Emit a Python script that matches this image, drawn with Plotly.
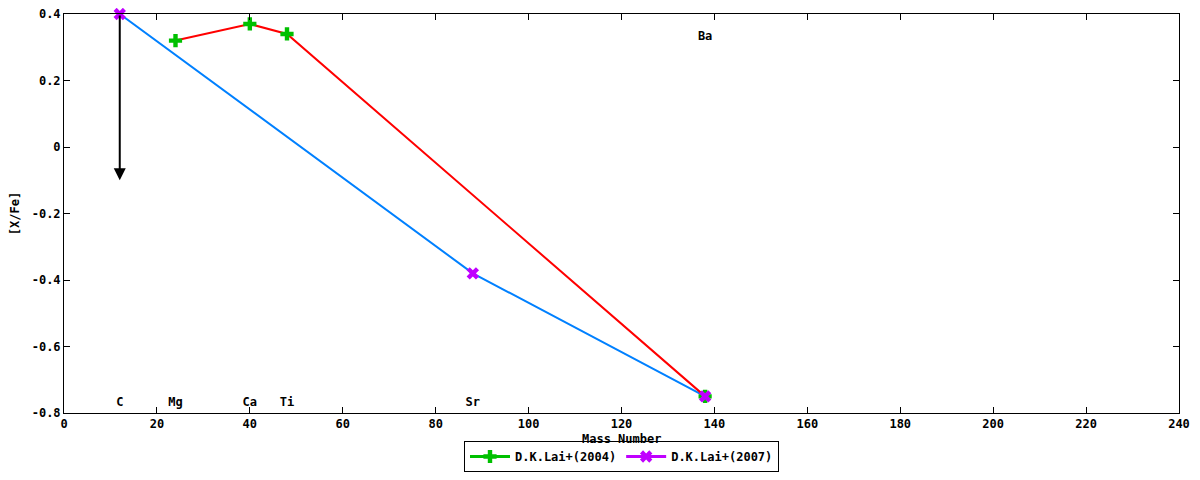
# Import libraries
import plotly.graph_objects as go

# Data
# D.K.Lai+(2004)
mass_2004 = [24, 40, 48, 138]
xfe_2004 = [0.32, 0.37, 0.34, -0.75]

# D.K.Lai+(2007)
mass_2007 = [12, 88, 138]
xfe_2007 = [0.40, -0.38, -0.75]

# upper limit arrow for C
limit_mass = [12]
limit_top = [0.40]
limit_bottom = [-0.10]

# element labels
label_names = ["C", "Mg", "Ca", "Ti", "Sr", "Ba"]
label_mass = [12, 24, 40, 48, 88, 138]
label_y = [-0.77, -0.77, -0.77, -0.77, -0.77, 0.33]

# ticks
x_ticks = [0, 20, 40, 60, 80, 100, 120, 140, 160, 180, 200, 220, 240]
y_ticks = [-0.8, -0.6, -0.4, -0.2, 0, 0.2, 0.4]
y_tick_labels = ["-0.8", "-0.6", "-0.4", "-0.2", "0", "0.2", "0.4"]

RED = "#ff0000"
GREEN = "#00c000"
BLUE = "#0080ff"
PURPLE = "#c000ff"
FONT = dict(family="DejaVu Sans Mono", size=12, color="black", weight="bold")


def createsFigure():
    global fig
    fig = go.Figure()

    # connecting lines
    fig.add_trace(go.Scatter(x=mass_2007, y=xfe_2007, mode="lines",
                             line=dict(color=BLUE, width=2),
                             showlegend=False, hoverinfo="skip"))
    fig.add_trace(go.Scatter(x=mass_2004, y=xfe_2004, mode="lines",
                             line=dict(color=RED, width=2),
                             showlegend=False, hoverinfo="skip"))

    # points
    fig.add_trace(go.Scatter(x=mass_2004, y=xfe_2004, mode="markers",
                             marker=dict(symbol="cross", size=11, color=GREEN),
                             showlegend=False, cliponaxis=False))
    fig.add_trace(go.Scatter(x=mass_2007, y=xfe_2007, mode="markers",
                             marker=dict(symbol="x", size=11, color=PURPLE),
                             showlegend=False, cliponaxis=False))

    # legend-only entries (gnuplot style sample: line with point)
    fig.add_trace(go.Scatter(x=[None], y=[None], mode="lines+markers",
                             name="D.K.Lai+(2004)",
                             line=dict(color=GREEN, width=3),
                             marker=dict(symbol="cross", size=11, color=GREEN)))
    fig.add_trace(go.Scatter(x=[None], y=[None], mode="lines+markers",
                             name="D.K.Lai+(2007)",
                             line=dict(color=PURPLE, width=3),
                             marker=dict(symbol="x", size=11, color=PURPLE)))

    # element labels
    fig.add_trace(go.Scatter(x=label_mass, y=label_y, mode="text",
                             text=label_names, textfont=FONT,
                             showlegend=False, hoverinfo="skip"))

    # upper limit arrow
    for m, top, bottom in zip(limit_mass, limit_top, limit_bottom):
        fig.add_annotation(x=m, y=bottom, ax=m, ay=top,
                           xref="x", yref="y", axref="x", ayref="y",
                           showarrow=True, arrowhead=2, arrowsize=1.2,
                           arrowwidth=2, arrowcolor="black", text="")

    # x axis title as annotation (axis title gets squeezed by the legend)
    fig.add_annotation(text="Mass Number", x=0.5, y=-0.066,
                       xref="paper", yref="paper", xanchor="center",
                       yanchor="middle", showarrow=False, font=FONT)

    axis_style = dict(showline=True, linecolor="black", linewidth=1,
                      mirror="ticks", ticks="inside", ticklen=6,
                      tickcolor="black", tickwidth=1, showgrid=False,
                      zeroline=False, tickfont=FONT, automargin=False)

    fig.update_xaxes(range=[0, 240], tickvals=x_ticks, **axis_style)
    # top label "0.4" sits right at the page edge, keep it visible
    fig.update_yaxes(range=[-0.8, 0.4], tickvals=y_ticks,
                     ticktext=y_tick_labels, ticklabeloverflow="allow",
                     title=dict(text="[X/Fe]", font=FONT, standoff=16),
                     **axis_style)

    # page body keeps an 8px margin, so the figure is 16px smaller than the window
    fig.update_layout(
        width=1184, height=464,
        margin=dict(l=56, r=13, t=6, b=59),
        plot_bgcolor="white", paper_bgcolor="white",
        font=FONT,
        legend=dict(orientation="h", x=0.5, xanchor="center",
                    y=0, yanchor="bottom", yref="container",
                    bordercolor="black", borderwidth=1, bgcolor="white",
                    font=FONT, itemwidth=40),
    )


def display():
    fig.write_html("out.html")


def main():
    createsFigure()
    display()


main()
